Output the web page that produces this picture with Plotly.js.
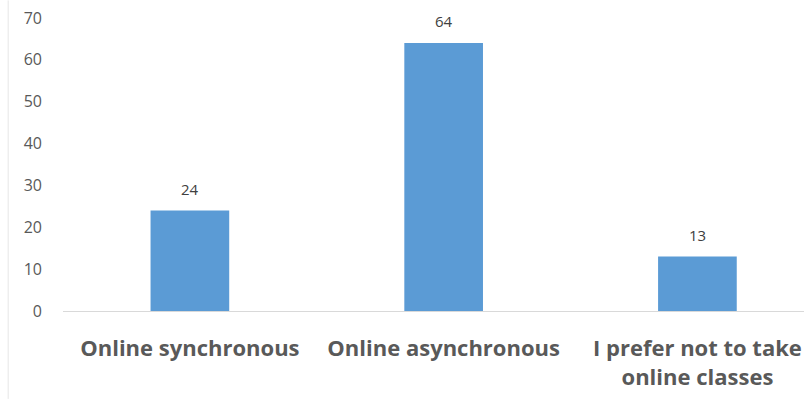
<!DOCTYPE html>
<html><head><meta charset="utf-8">
<script src="https://cdn.plot.ly/plotly-3.0.1.min.js"></script>
<style>html,body{margin:0;padding:0;background:#fff;}#c{width:804px;height:404px;}</style>
</head><body><div id="c"></div>
<script>
const categories = ["Online synchronous", "Online asynchronous", "I prefer not to take<br>online classes"];
const values = [24, 64, 13];
const yTicks = [0, 10, 20, 30, 40, 50, 60, 70];

const trace = {
  type: "bar", x: categories, y: values,
  marker: {color: "#5B9BD5"}, width: 0.31, hoverinfo: "none"
};
const annotations = categories.map((c, i) => ({
  x: c, y: values[i], xref: "x", yref: "y", text: String(values[i]),
  showarrow: false, yshift: 22, font: {family: "Open Sans, sans-serif", size: 15, color: "#404040"}
}));
const layout = {
  width: 804, height: 404,
  margin: {l: 63, r: 0, t: 18, b: 93},
  paper_bgcolor: "#fff", plot_bgcolor: "#fff",
  showlegend: false,
  xaxis: {
    type: "category", range: [-0.5, 2.42], showgrid: false, zeroline: false,
    showline: false, ticks: "", ticklabelstandoff: 22,
    tickfont: {family: "Open Sans, sans-serif", size: 22, color: "#595959", weight: "bold"}
  },
  yaxis: {
    range: [0, 70], tickvals: yTicks, showgrid: false, zeroline: true,
    zerolinecolor: "#D9D9D9", zerolinewidth: 1, showline: false, ticks: "",
    ticklabelstandoff: 20,
    tickfont: {family: "Open Sans, sans-serif", size: 16, color: "#595959"}
  },
  annotations: annotations,
  shapes: [{type: "line", xref: "paper", yref: "paper", x0: -0.074, x1: -0.074, y0: -0.3, y1: 1.06,
    line: {color: "#E6E6E6", width: 1}}]
};
Plotly.newPlot("c", [trace], layout, {staticPlot: true});
</script></body></html>
